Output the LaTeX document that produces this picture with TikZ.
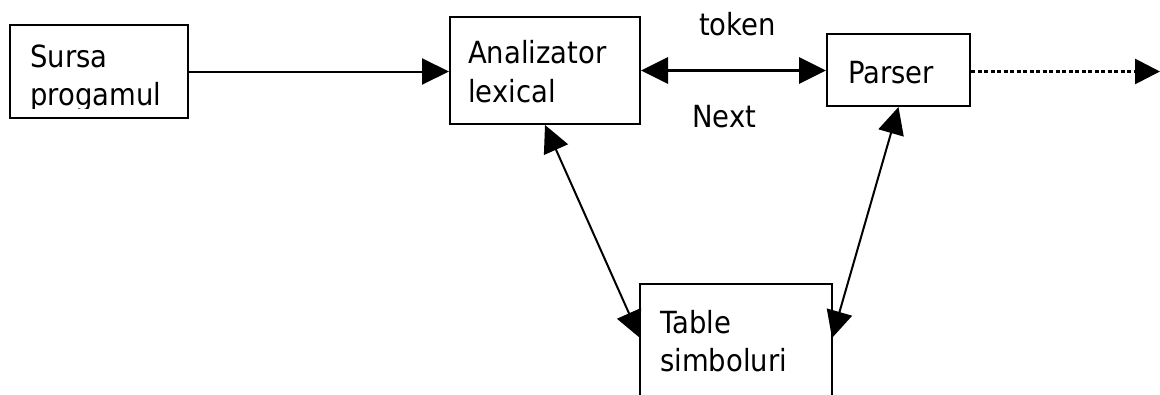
\documentclass[tikz,border=0pt]{standalone}
\usepackage{fontspec}
\setmainfont{DejaVu Sans}[FakeStretch=0.9]
\usetikzlibrary{arrows.meta}
\begin{document}
\begin{tikzpicture}[x=1pt,y=-1pt,
  box/.style={draw,line width=2pt,inner sep=0pt},
  lbl/.style={anchor=base west,inner sep=0pt,font=\fontsize{30.5}{36}\selectfont},
  arr/.style={line width=2pt,-{Triangle[length=27pt,width=26pt]}},
  darr/.style={line width=2pt,{Triangle[length=27pt,width=26pt]}-{Triangle[length=27pt,width=26pt]}},
  thickdarr/.style={line width=3.5pt,{Triangle[length=27pt,width=26pt]}-{Triangle[length=27pt,width=26pt]}},
  dotarr/.style={line width=2.8pt,dash pattern=on 4pt off 2.5pt,-{Triangle[length=25pt,width=25pt]}}]
\clip (0,0) rectangle (1160,394);
\useasboundingbox (0,0) rectangle (1160,394);
% boxes
\node[box,minimum width=178pt,minimum height=93pt] (src) at (99,71.5) {};
\node[box,minimum width=190pt,minimum height=107pt] (lex) at (545,70.5) {};
\node[box,minimum width=143pt,minimum height=72pt] (par) at (898.5,70) {};
\node[box,minimum width=192pt,minimum height=120pt] (tab) at (736,344) {};
% texts
\node[lbl] (s1) at (30,67) {Sursa};
\begin{scope}
  \clip (10,25) rectangle (188,108);
  \node[lbl] (s2) at (30,105) {progamul};
\end{scope}
\node[lbl] (l1) at (468,63) {Analizator};
\node[lbl] (l2) at (468,102) {lexical};
\node[lbl] (tk) at (699,35) {token};
\node[lbl] (nx) at (692,127) {Next};
\node[lbl] (p1) at (848,83) {Parser};
\node[lbl] (t1) at (660,333) {Table};
\node[lbl] (t2) at (660,371) {simboluri};
% connectors
\coordinate (out) at (1160,71.5);
\coordinate (tl) at (640,338);
\coordinate (tr) at (832,338);
\draw[arr] (src.east) -- (src.east -| lex.west);
\draw[thickdarr] (lex.east) -- (lex.east -| par.west);
\draw[dotarr] (par.east |- out) -- (out);
\draw[darr] (lex.south) -- (tl);
\draw[darr] (par.south) -- (tr);
\end{tikzpicture}
\end{document}
